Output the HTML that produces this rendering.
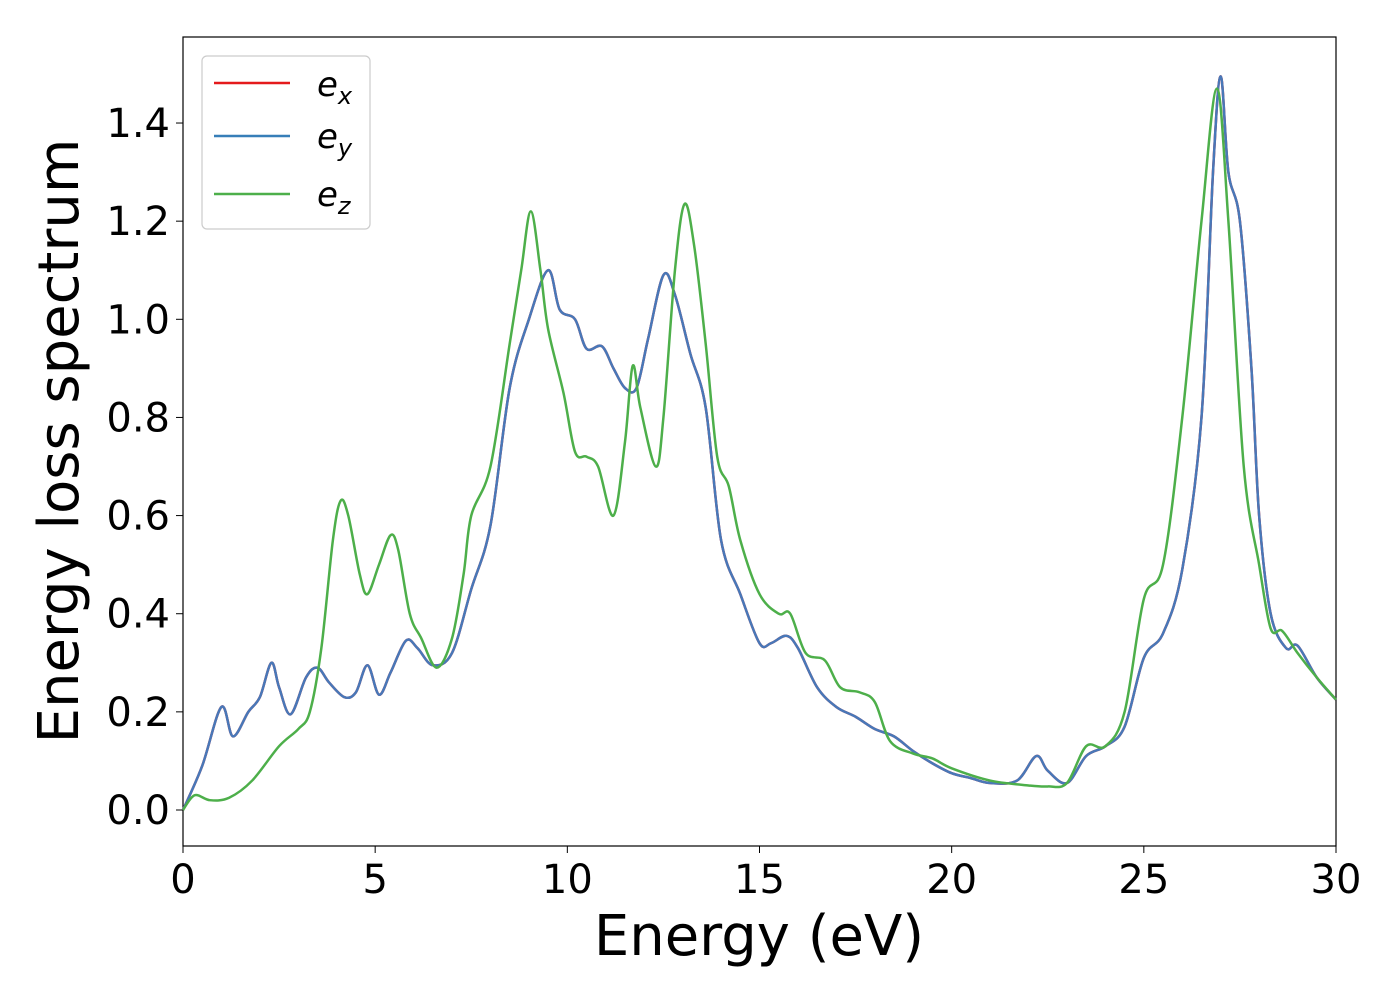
<!DOCTYPE html>
<html><head><meta charset="utf-8"><style>
body{margin:0;background:#fff;}
svg text{font-family:"DejaVu Sans","Liberation Sans",sans-serif;fill:#000;}
</style></head><body>
<svg id="chart" width="1400" height="1000" xmlns="http://www.w3.org/2000/svg">
<rect x="183" y="37" width="1153" height="809" fill="none" stroke="#000" stroke-width="1.2"/>
<g id="ticks"></g>
<g id="lines"></g>
<text x="759" y="955" font-size="56" text-anchor="middle">Energy (eV)</text>
<text transform="translate(78,441) rotate(-90)" font-size="56" text-anchor="middle">Energy loss spectrum</text>
<g>
<rect x="202" y="56" width="168" height="173" rx="5" fill="#fff" stroke="#ccc" stroke-width="1.2"/>
<line x1="214" y1="83" x2="290" y2="83" stroke="#e41a1c" stroke-width="2.5"/>
<line x1="214" y1="136" x2="290" y2="136" stroke="#377eb8" stroke-width="2.5"/>
<line x1="214" y1="194" x2="290" y2="194" stroke="#4daf4a" stroke-width="2.5"/>
<text x="317" y="96" font-size="34" font-style="italic">e<tspan font-size="24" dy="8">x</tspan></text>
<text x="317" y="148" font-size="34" font-style="italic">e<tspan font-size="24" dy="8">y</tspan></text>
<text x="317" y="206" font-size="34" font-style="italic">e<tspan font-size="24" dy="8">z</tspan></text>
</g>
</svg>
<script>
const xTicks=[0,5,10,15,20,25,30];
const yTicks=[0.0,0.2,0.4,0.6,0.8,1.0,1.2,1.4];
const eyX=[0,0.5,1.0,1.3,1.7,2.0,2.3,2.5,2.8,3.2,3.5,3.8,4.2,4.5,4.8,5.1,5.4,5.8,6.1,6.5,7.0,7.5,8.0,8.5,9.0,9.5,9.8,10.2,10.5,10.9,11.2,11.5,11.8,12.1,12.5,12.8,13.2,13.6,14.0,14.5,15.0,15.3,15.7,16.0,16.5,17.0,17.5,18.0,18.5,19.0,19.5,20,20.5,21.0,21.7,22.2,22.5,23.0,23.5,24.0,24.5,25.0,25.5,26.0,26.5,26.8,27.0,27.2,27.5,27.8,28.0,28.3,28.7,29.0,29.5,30];
const eyY=[0,0.09,0.21,0.15,0.2,0.23,0.30,0.25,0.195,0.27,0.29,0.26,0.23,0.24,0.295,0.235,0.28,0.345,0.33,0.295,0.32,0.45,0.58,0.86,1.0,1.10,1.02,1.0,0.94,0.945,0.90,0.86,0.86,0.96,1.09,1.05,0.93,0.82,0.55,0.44,0.34,0.34,0.355,0.33,0.25,0.21,0.19,0.165,0.15,0.12,0.095,0.075,0.065,0.055,0.06,0.11,0.08,0.055,0.11,0.13,0.17,0.31,0.36,0.49,0.8,1.3,1.495,1.3,1.2,0.9,0.6,0.4,0.33,0.335,0.27,0.225];
const exX=eyX.slice();
const exY=eyY.slice();
const ezX=[0,0.3,0.7,1.2,1.8,2.5,3.0,3.3,3.6,3.9,4.1,4.3,4.6,4.8,5.1,5.4,5.6,5.9,6.2,6.6,7.0,7.3,7.5,8.0,8.5,8.8,9.05,9.3,9.5,9.9,10.2,10.5,10.8,11.2,11.5,11.7,11.9,12.3,12.5,12.8,13.05,13.3,13.6,13.9,14.2,14.5,15.0,15.5,15.8,16.2,16.7,17.1,17.6,18.0,18.4,19.0,19.5,20.0,21,22,22.5,23.0,23.5,24.0,24.5,25.0,25.5,26.0,26.5,26.9,27.2,27.6,28.0,28.3,28.6,29.0,29.5,30];
const ezY=[0,0.03,0.02,0.025,0.06,0.13,0.165,0.2,0.33,0.55,0.63,0.6,0.48,0.44,0.5,0.56,0.53,0.40,0.35,0.29,0.35,0.48,0.6,0.7,0.95,1.1,1.22,1.1,0.98,0.85,0.73,0.72,0.7,0.6,0.75,0.905,0.82,0.70,0.8,1.1,1.235,1.15,0.95,0.72,0.66,0.55,0.44,0.40,0.40,0.32,0.305,0.25,0.24,0.22,0.14,0.115,0.105,0.085,0.06,0.05,0.048,0.055,0.13,0.13,0.2,0.43,0.5,0.8,1.2,1.47,1.2,0.7,0.5,0.37,0.365,0.32,0.27,0.225];
const NS="http://www.w3.org/2000/svg";
function sx(v){return 183+v*(1336-183)/30;}
function sy(v){return 810-v*490.7;}
const tg=document.getElementById('ticks');
xTicks.forEach(t=>{
  const l=document.createElementNS(NS,'line');
  
  
  l.setAttribute('x1',sx(t));l.setAttribute('x2',sx(t));l.setAttribute('y1',846);l.setAttribute('y2',853);l.setAttribute('stroke','#000');
  tg.appendChild(l);
  const tx=document.createElementNS(NS,'text');
  
  
  tx.setAttribute('x',sx(t));tx.setAttribute('y',893);tx.setAttribute('font-size','40');tx.setAttribute('text-anchor','middle');
  tx.textContent=t;tg.appendChild(tx);
});
yTicks.forEach(t=>{
  const l=document.createElementNS(NS,'line');
  
  
  l.setAttribute('x1',176);l.setAttribute('x2',183);l.setAttribute('y1',sy(t));l.setAttribute('y2',sy(t));l.setAttribute('stroke','#000');
  tg.appendChild(l);
  const tx=document.createElementNS(NS,'text');
  
  
  tx.setAttribute('x',170);tx.setAttribute('y',sy(t)+14);tx.setAttribute('font-size','40');tx.setAttribute('text-anchor','end');
  tx.textContent=t.toFixed(1);tg.appendChild(tx);
});
function pathD(xs,ys){
  const p=xs.map((x,i)=>[sx(x),sy(ys[i])]);
  let d='M'+p[0][0]+','+p[0][1];
  for(let i=0;i<p.length-1;i++){
    const p0=p[Math.max(0,i-1)],p1=p[i],p2=p[i+1],p3=p[Math.min(p.length-1,i+2)];
    const c1=[p1[0]+(p2[0]-p0[0])/6,p1[1]+(p2[1]-p0[1])/6];
    const c2=[p2[0]-(p3[0]-p1[0])/6,p2[1]-(p3[1]-p1[1])/6];
    d+=' C'+c1[0]+','+c1[1]+' '+c2[0]+','+c2[1]+' '+p2[0]+','+p2[1];
  }
  return d;
}
const lg=document.getElementById('lines');
function addLine(xs,ys,color,name){
  const pa=document.createElementNS(NS,'path');
  
  
  pa.setAttribute('d',pathD(xs,ys));pa.setAttribute('fill','none');pa.setAttribute('stroke',color);pa.setAttribute('stroke-width','2.5');
  lg.appendChild(pa);
}
addLine(exX,exY,'#e41a1c','series-ex-line');
addLine(eyX,eyY,'#4878b8','series-ey-line');
addLine(ezX,ezY,'#4daf4a','series-ez-line');
</script>
</body></html>
